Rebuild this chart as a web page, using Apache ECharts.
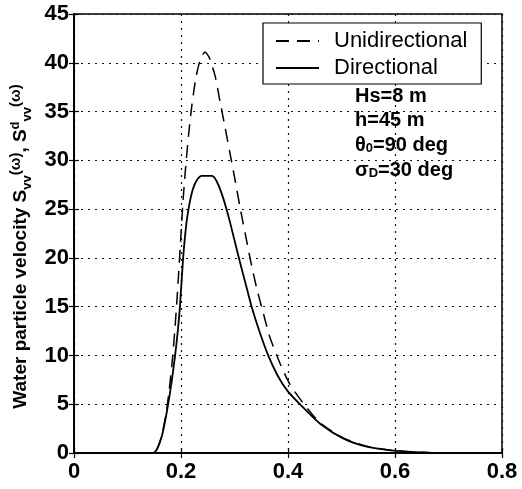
<!DOCTYPE html>
<html>
<head>
<meta charset="utf-8">
<script src="https://cdn.jsdelivr.net/npm/echarts@6/dist/echarts.min.js"></script>
<style>
html,body{margin:0;padding:0;background:#fff;}
#c{width:522px;height:489px;}
</style>
</head>
<body>
<div id="c"></div>
<script>
// Unidirectional spectrum (dashed)
var uniX = [0, 0.148, 0.157, 0.165, 0.172, 0.178, 0.183, 0.189, 0.194, 0.199, 0.204, 0.209, 0.214, 0.220, 0.228, 0.236, 0.245, 0.253, 0.264, 0.273, 0.282, 0.292, 0.301, 0.310, 0.320, 0.329, 0.341, 0.354, 0.366, 0.385, 0.404, 0.430, 0.460, 0.503, 0.547, 0.597, 0.659, 0.700, 0.800];
var uniY = [0, 0, 0.6, 2, 4, 6.5, 9, 13, 17, 21.5, 26, 29.5, 32.5, 35.5, 38.5, 40.3, 41.1, 40.5, 38.6, 36, 33.5, 30.6, 28, 25.3, 22.5, 20, 17, 14.3, 11.9, 9.2, 7, 5, 3.1, 1.55, 0.7, 0.25, 0.04, 0, 0];
// Directional spectrum (solid)
var dirX = [0, 0.148, 0.155, 0.164, 0.170, 0.176, 0.183, 0.189, 0.194, 0.198, 0.204, 0.209, 0.214, 0.222, 0.230, 0.239, 0.258, 0.268, 0.279, 0.290, 0.300, 0.310, 0.321, 0.332, 0.347, 0.363, 0.380, 0.398, 0.424, 0.460, 0.503, 0.547, 0.597, 0.659, 0.700, 0.800];
var dirY = [0, 0, 0.4, 1.7, 3.2, 5, 7.5, 10, 12.5, 15, 20, 23, 25, 27, 28, 28.4, 28.4, 27.7, 26.1, 24, 21.8, 19.6, 17.3, 15, 12.4, 10, 8, 6.45, 4.9, 3, 1.5, 0.65, 0.24, 0.03, 0, 0];
var xTicks = [0, 0.2, 0.4, 0.6, 0.8];
var yTicks = [0, 5, 10, 15, 20, 25, 30, 35, 40, 45];
var seriesNames = ['Unidirectional', 'Directional'];
var annotations = ['Hs=8 m', 'h=45 m', 'θ{sub|0}=90 deg', 'σ{sub|D}=30 deg'];

function pairs(xs, ys){ return xs.map(function(x,i){ return [x, ys[i]]; }); }

var FONT = 'Liberation Sans, Arial, Helvetica, sans-serif';
var chart = echarts.init(document.getElementById('c'), null, {renderer:'canvas'});
var gridStyle = {show:true, lineStyle:{color:'#111', width:1.2, type:[2,5]}};
var option = {
  backgroundColor:'#fff',
  animation:false,
  grid:{left:74, right:20, top:14, bottom:36, show:true, borderColor:'#000', borderWidth:1.5, backgroundColor:'transparent'},
  xAxis:[{
    type:'value', min:xTicks[0], max:xTicks[xTicks.length-1], interval:0.2, position:'bottom',
    axisLine:{show:true, lineStyle:{color:'#000', width:1.5}},
    axisTick:{show:true, inside:true, length:5, lineStyle:{color:'#000', width:1.2}},
    axisLabel:{color:'#000', fontFamily:FONT, fontWeight:'bold', fontSize:22, margin:8,
      formatter:function(v){ return String(+v.toFixed(1)); }},
    splitLine:gridStyle
  },{
    type:'value', min:xTicks[0], max:xTicks[xTicks.length-1], interval:0.2, position:'top',
    axisLine:{show:true, lineStyle:{color:'#000', width:1.5}},
    axisTick:{show:true, inside:true, length:5, lineStyle:{color:'#000', width:1.2}},
    axisLabel:{show:false}, splitLine:{show:false}
  }],
  yAxis:[{
    type:'value', min:yTicks[0], max:yTicks[yTicks.length-1], interval:5, position:'left',
    axisLine:{show:true, lineStyle:{color:'#000', width:1.5}},
    axisTick:{show:true, inside:true, length:5, lineStyle:{color:'#000', width:1.2}},
    axisLabel:{color:'#000', fontFamily:FONT, fontWeight:'bold', fontSize:22, margin:5},
    splitLine:gridStyle,
    name:'Water particle velocity S{sub|vv}{w|(ω)}, S{sup|d}{sub|vv}{w|(ω)}',
    nameLocation:'middle', nameGap:30, nameRotate:90,
    nameTextStyle:{color:'#000', fontFamily:FONT, fontWeight:'bold', fontSize:19, lineHeight:25,
      padding:[0,26,0,0],
      rich:{
        sub:{fontFamily:FONT, fontWeight:'bold', fontSize:13, lineHeight:13, verticalAlign:'bottom', color:'#000'},
        sup:{fontFamily:FONT, fontWeight:'bold', fontSize:13, lineHeight:13, verticalAlign:'top', color:'#000'},
        w:{fontFamily:FONT, fontWeight:'bold', fontSize:15, lineHeight:19, verticalAlign:'top', color:'#000'}
      }}
  },{
    type:'value', min:yTicks[0], max:yTicks[yTicks.length-1], interval:5, position:'right',
    axisLine:{show:true, lineStyle:{color:'#000', width:1.5}},
    axisTick:{show:true, inside:true, length:5, lineStyle:{color:'#000', width:1.2}},
    axisLabel:{show:false}, splitLine:{show:false}
  }],
  legend:{
    orient:'vertical', left:263, top:23,
    data:seriesNames,
    backgroundColor:'#fff', borderColor:'#000', borderWidth:1.2, borderRadius:0,
    padding:[7,14,5,12], itemGap:5, itemWidth:43, itemHeight:14,
    itemStyle:{opacity:0},
    textStyle:{color:'#000', fontFamily:FONT, fontSize:22, lineHeight:22, padding:[0,0,0,10]},
    selectedMode:false
  },
  series:[{
    name:seriesNames[0], type:'line', data:pairs(uniX, uniY), symbol:'none', smooth:0.25,
    lineStyle:{color:'#000', width:1.5, type:[13,8]}, itemStyle:{color:'#000'}, z:3
  },{
    name:seriesNames[1], type:'line', data:pairs(dirX, dirY), symbol:'none', smooth:0.25,
    lineStyle:{color:'#000', width:1.8, type:'solid'}, itemStyle:{color:'#000'}, z:4
  }],
  graphic:annotations.map(function(t,i){
    return {type:'text', x:355, y:96 + i*24.7, z:10,
      style:{text:t, fill:'#000', font:'bold 20px ' + FONT, verticalAlign:'middle',
        rich:{sub:{fontSize:13, fontWeight:'bold', fontFamily:FONT, verticalAlign:'bottom', lineHeight:12, fill:'#000'}}}};
  })
};
chart.setOption(option);
</script>
</body>
</html>
